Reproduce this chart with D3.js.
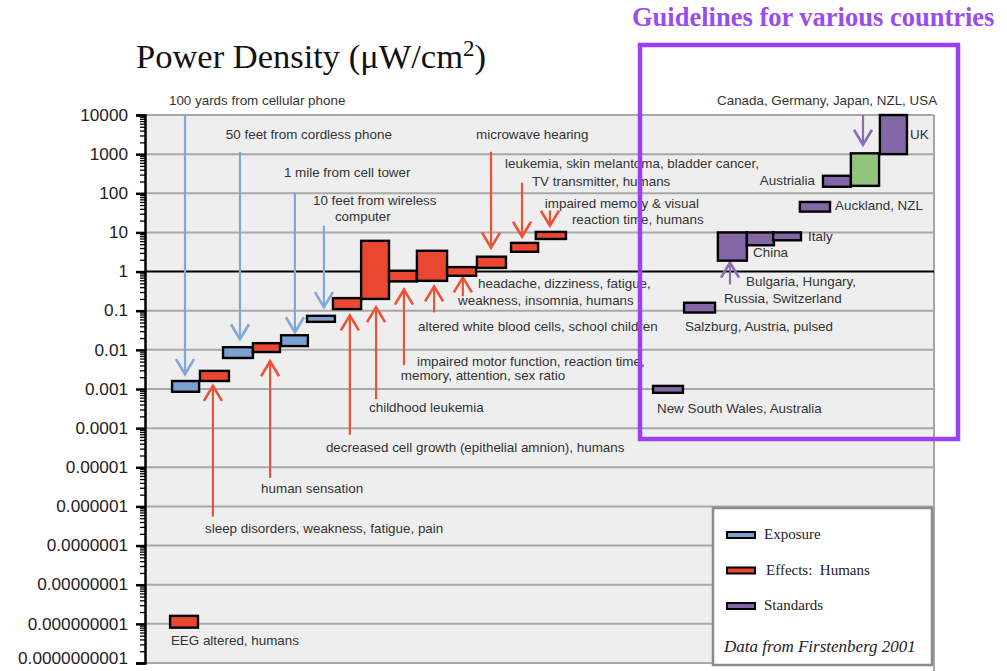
<!DOCTYPE html>
<html>
<head>
<meta charset="utf-8">
<script src="https://cdn.jsdelivr.net/npm/d3@7"></script>
<style>
  html, body { margin: 0; padding: 0; background: #ffffff; }
  svg { display: block; }
</style>
</head>
<body>
<svg id="chart" width="1007" height="671"></svg>
<script>
// ---------------- DATA ----------------
// y-axis tick values and labels (power density, µW/cm²)
const tickValues = [1e4, 1e3, 1e2, 1e1, 1, 1e-1, 1e-2, 1e-3, 1e-4, 1e-5, 1e-6, 1e-7, 1e-8, 1e-9, 1e-10];
const tickLabels = ["10000", "1000", "100", "10", "1", "0.1", "0.01", "0.001", "0.0001", "0.00001",
                    "0.000001", "0.0000001", "0.00000001", "0.000000001", "0.0000000001"];

// x is an ordinal slot position (start/end) along the chart; low/high are µW/cm²
const exposure = [
  { name: "100 yards from cellular phone", x0: 0.96, x1: 1.92, low: 0.00085, high: 0.0016 },
  { name: "50 feet from cordless phone",   x0: 2.77, x1: 3.83, low: 0.0062,  high: 0.0117 },
  { name: "1 mile from cell tower",        x0: 4.83, x1: 5.78, low: 0.0125,  high: 0.0236 },
  { name: "10 feet from wireless computer",x0: 5.75, x1: 6.74, low: 0.052,   high: 0.074 }
];
const effects = [
  { name: "EEG altered, humans",                     x0: 0.89,  x1: 1.88,  low: 0.8e-9, high: 1.6e-9 },
  { name: "sleep disorders, weakness, fatigue, pain",x0: 1.95,  x1: 2.98,  low: 0.0016, high: 0.0029 },
  { name: "human sensation",                         x0: 3.83,  x1: 4.79,  low: 0.0088, high: 0.0148 },
  { name: "decreased cell growth",                   x0: 6.67,  x1: 7.67,  low: 0.11,   high: 0.21 },
  { name: "childhood leukemia",                      x0: 7.67,  x1: 8.66,  low: 0.2,    high: 6.1 },
  { name: "impaired motor function",                 x0: 8.66,  x1: 9.65,  low: 0.56,   high: 1.05 },
  { name: "altered white blood cells",               x0: 9.65,  x1: 10.72, low: 0.58,   high: 3.4 },
  { name: "headache, dizziness, fatigue",            x0: 10.72, x1: 11.75, low: 0.78,   high: 1.3 },
  { name: "microwave hearing",                       x0: 11.78, x1: 12.81, low: 1.24,   high: 2.4 },
  { name: "leukemia, skin melanoma, bladder cancer", x0: 12.99, x1: 13.95, low: 3.2,    high: 5.4 },
  { name: "impaired memory & visual reaction time",  x0: 13.87, x1: 14.94, low: 6.8,    high: 10.3 }
];
const standards = [
  { name: "New South Wales, Australia",       x0: 18.03, x1: 19.09, low: 0.0008, high: 0.0012 },
  { name: "Salzburg, Austria, pulsed",        x0: 19.13, x1: 20.23, low: 0.09,   high: 0.16 },
  { name: "China",                            x0: 20.33, x1: 21.36, low: 1.9,    high: 10 },
  { name: "Bulgaria, Hungary, Russia, Switzerland", x0: 21.36, x1: 22.32, low: 4.7, high: 10 },
  { name: "Italy",                            x0: 22.29, x1: 23.28, low: 6.3,    high: 10 },
  { name: "Auckland, NZL",                    x0: 23.24, x1: 24.31, low: 34,     high: 60 },
  { name: "Austrialia",                       x0: 24.06, x1: 25.05, low: 147,    high: 280 },
  { name: "Canada, Germany, Japan, NZL, USA", x0: 25.05, x1: 26.05, low: 155,    high: 1050 },
  { name: "UK",                               x0: 26.08, x1: 27.04, low: 1000,   high: 10000 }
];
const highlightedStandard = "Canada, Germany, Japan, NZL, USA";

// arrows: slot x, log10 value of tail and tip
const arrows = [
  { series: "exposure",  x: 1.42,  from: 4.0,   to: -2.62 },
  { series: "exposure",  x: 3.37,  from: 3.06,  to: -1.73 },
  { series: "exposure",  x: 5.32,  from: 2.01,  to: -1.55 },
  { series: "exposure",  x: 6.35,  from: 1.17,  to: -0.91 },
  { series: "effects",   x: 2.41,  from: -6.26, to: -2.92 },
  { series: "effects",   x: 4.44,  from: -5.27, to: -2.29 },
  { series: "effects",   x: 7.27,  from: -4.17, to: -1.12 },
  { series: "effects",   x: 8.2,   from: -3.26, to: -0.91 },
  { series: "effects",   x: 9.19,  from: -2.39, to: -0.46 },
  { series: "effects",   x: 10.26, from: -1.04, to: -0.38 },
  { series: "effects",   x: 11.28, from: -0.63, to: -0.15 },
  { series: "effects",   x: 12.28, from: 3.06,  to: 0.61 },
  { series: "effects",   x: 13.38, from: 2.27,  to: 0.89 },
  { series: "effects",   x: 14.37, from: 1.56,  to: 1.17 },
  { series: "standards", x: 25.48, from: 4.0,   to: 3.24 },
  { series: "standards", x: 20.76, from: -0.33, to: 0.23 }
];

// annotation text: slot x (start), log10 value of baseline
const annotations = [
  { text: "100 yards from cellular phone", x: 0.85, y: 4.25 },
  { text: "50 feet from cordless phone", x: 2.87, y: 3.39 },
  { text: "1 mile from cell tower", x: 4.93, y: 2.41 },
  { text: "10 feet from wireless", x: 5.96, y: 1.71 },
  { text: "computer", x: 6.74, y: 1.30 },
  { text: "microwave hearing", x: 11.75, y: 3.39 },
  { text: "leukemia, skin melantoma, bladder cancer,", x: 12.78, y: 2.65 },
  { text: "TV transmitter, humans", x: 13.73, y: 2.19 },
  { text: "impaired memory & visual", x: 14.19, y: 1.63 },
  { text: "reaction time, humans", x: 15.15, y: 1.22 },
  { text: "headache, dizziness, fatigue,", x: 11.82, y: -0.43 },
  { text: "weakness, insomnia, humans", x: 11.11, y: -0.86 },
  { text: "altered white blood cells, school children", x: 9.69, y: -1.52 },
  { text: "impaired motor function, reaction time,", x: 9.65, y: -2.42 },
  { text: "memory, attention, sex ratio", x: 9.08, y: -2.77 },
  { text: "childhood leukemia", x: 7.95, y: -3.58 },
  { text: "decreased cell growth (epithelial amnion), humans", x: 6.42, y: -4.60 },
  { text: "human sensation", x: 4.12, y: -5.65 },
  { text: "sleep disorders, weakness, fatigue, pain", x: 2.13, y: -6.67 },
  { text: "EEG altered, humans", x: 0.92, y: -9.54 },
  { text: "Canada, Germany, Japan, NZL, USA", x: 20.30, y: 4.25 },
  { text: "UK", x: 27.15, y: 3.39 },
  { text: "Austrialia", x: 21.82, y: 2.22 },
  { text: "Auckland, NZL", x: 24.49, y: 1.58 },
  { text: "Italy", x: 23.53, y: 0.79 },
  { text: "China", x: 21.58, y: 0.36 },
  { text: "Bulgaria, Hungary,", x: 21.33, y: -0.38 },
  { text: "Russia, Switzerland", x: 20.55, y: -0.81 },
  { text: "Salzburg, Austria, pulsed", x: 19.16, y: -1.52 },
  { text: "New South Wales, Australia", x: 18.17, y: -3.61 }
];

const legendLabels = ["Exposure", "Effects:  Humans", "Standards"];
const legendKeys = ["exposure", "effects", "standards"];
const titleText = "Power Density (\u03bcW/cm";
const headerText = "Guidelines for various countries";
const sourceText = "Data from Firstenberg 2001";

// ---------------- STYLE ----------------
const fill = { exposure: "#7ba1d3", effects: "#e9472f", standards: "#8266a6", highlight: "#93c47d" };
const arrowColor = { exposure: "#80a8d8", effects: "#ee5136", standards: "#8c6cb4" };

// ---------------- SCALES ----------------
const plot = { left: 145, right: 934, top: 115, bottom: 663 };
const x = d3.scaleLinear().domain([0, 28]).range([plot.left, plot.right]);
const y = d3.scaleLog().domain([1e-10, 1e4]).range([plot.bottom, plot.top]);
const ylog = v => y(Math.pow(10, v));

const svg = d3.select("#chart");

// plot background
svg.append("rect")
  .attr("x", plot.left).attr("y", plot.top)
  .attr("width", plot.right - plot.left).attr("height", plot.bottom - plot.top)
  .attr("fill", "#eeeeee");

// right border
svg.append("line")
  .attr("x1", plot.right).attr("x2", plot.right)
  .attr("y1", plot.top).attr("y2", 671)
  .attr("stroke", "#a6a6a6").attr("stroke-width", 2);

// gridlines
svg.append("g").selectAll("line").data(tickValues).join("line")
  .attr("x1", plot.left).attr("x2", plot.right)
  .attr("y1", d => y(d)).attr("y2", d => y(d))
  .attr("stroke", d => d === 1 ? "#000" : "#a8a8a8")
  .attr("stroke-width", 2);

// axis with minor ticks
const minor = [];
for (let k = -10; k < 4; k++) for (let m = 2; m <= 9; m++) minor.push(m * Math.pow(10, k));
const minorAxis = svg.append("g").attr("transform", `translate(${plot.left},0)`)
  .call(d3.axisLeft(y).tickValues(minor).tickSize(5).tickFormat(""));
minorAxis.select(".domain").remove();
minorAxis.selectAll(".tick line").attr("stroke", "#000").attr("stroke-width", 1.3);

const yAxis = svg.append("g").attr("transform", `translate(${plot.left},0)`)
  .call(d3.axisLeft(y).tickValues(tickValues).tickSize(9).tickPadding(8)
        .tickFormat((d, i) => tickLabels[i]));
yAxis.select(".domain").attr("stroke", "#000").attr("stroke-width", 2.5);
yAxis.selectAll(".tick line").attr("stroke", "#000").attr("stroke-width", 2.5);
yAxis.selectAll(".tick text")
  .attr("font-family", "'Liberation Sans', Arial, sans-serif")
  .attr("font-size", 17.2).attr("fill", "#222")
  .attr("dy", (d, i) => i === tickValues.length - 1 ? "0.05em" : "0.3em");

// title
const title = svg.append("text")
  .attr("x", 136).attr("y", 68)
  .attr("font-family", "'Liberation Serif', 'Times New Roman', serif")
  .attr("font-size", 34.5).attr("fill", "#111");
title.append("tspan").text(titleText);
title.append("tspan").attr("dy", -12).attr("font-size", 23).text("2");
title.append("tspan").attr("dy", 12).text(")");

// header for the guideline box
svg.append("text")
  .attr("x", 632).attr("y", 26)
  .attr("font-family", "'Liberation Serif', 'Times New Roman', serif")
  .attr("font-weight", "bold").attr("font-size", 26.5).attr("fill", "#9a4ded")
  .text(headerText);

// arrows
function drawArrow(g, a) {
  const xp = x(a.x), y1 = ylog(a.from), y2 = ylog(a.to);
  const dir = y2 > y1 ? 1 : -1; // 1 = pointing down
  const c = arrowColor[a.series];
  g.append("line").attr("x1", xp).attr("x2", xp).attr("y1", y1).attr("y2", y2)
    .attr("stroke", c).attr("stroke-width", 2.2);
  g.append("path")
    .attr("d", `M${xp - 9},${y2 - dir * 15} L${xp},${y2} L${xp + 9},${y2 - dir * 15}`)
    .attr("fill", "none").attr("stroke", c).attr("stroke-width", 2.6)
    .attr("stroke-linejoin", "miter");
}
const arrowG = svg.append("g");
arrows.forEach(a => drawArrow(arrowG, a));

// bars
function drawBars(data, key) {
  svg.append("g").selectAll("rect").data(data).join("rect")
    .attr("x", d => x(d.x0)).attr("width", d => x(d.x1) - x(d.x0))
    .attr("y", d => y(d.high)).attr("height", d => y(d.low) - y(d.high))
    .attr("fill", d => (key === "standards" && d.name === highlightedStandard) ? fill.highlight : fill[key])
    .attr("stroke", "#000").attr("stroke-width", 2.4);
}
drawBars(exposure, "exposure");
drawBars(effects, "effects");
drawBars(standards, "standards");

// annotation labels
svg.append("g").selectAll("text").data(annotations).join("text")
  .attr("x", d => x(d.x)).attr("y", d => ylog(d.y))
  .attr("font-family", "'Liberation Sans', Arial, sans-serif")
  .attr("font-size", 13.4).attr("fill", "#333")
  .text(d => d.text);

// purple guideline box
svg.append("rect")
  .attr("x", 640).attr("y", 45).attr("width", 318).attr("height", 394)
  .attr("fill", "none").attr("stroke", "#9b40f5").attr("stroke-width", 4.5);

// legend
const lg = svg.append("g");
lg.append("rect").attr("x", 713).attr("y", 508).attr("width", 219).attr("height", 157)
  .attr("fill", "#fff").attr("stroke", "#8a8a8a").attr("stroke-width", 2.5);
const legendRow = d3.scaleLinear().domain([0, 2]).range([535, 606]);
legendKeys.forEach((k, i) => {
  lg.append("rect").attr("x", 727).attr("y", legendRow(i) - 3).attr("width", 28).attr("height", 6)
    .attr("fill", fill[k]).attr("stroke", "#000").attr("stroke-width", 2);
  lg.append("text").attr("x", i === 1 ? 766 : 764).attr("y", legendRow(i) + 4)
    .attr("font-family", "'Liberation Serif', 'Times New Roman', serif")
    .attr("font-size", 15).attr("fill", "#222").attr("xml:space", "preserve")
    .style("white-space", "pre")
    .text(legendLabels[i]);
});
lg.append("text").attr("x", 724).attr("y", 652)
  .attr("font-family", "'Liberation Serif', 'Times New Roman', serif")
  .attr("font-style", "italic").attr("font-size", 17).attr("fill", "#222")
  .text(sourceText);
</script>
</body>
</html>
